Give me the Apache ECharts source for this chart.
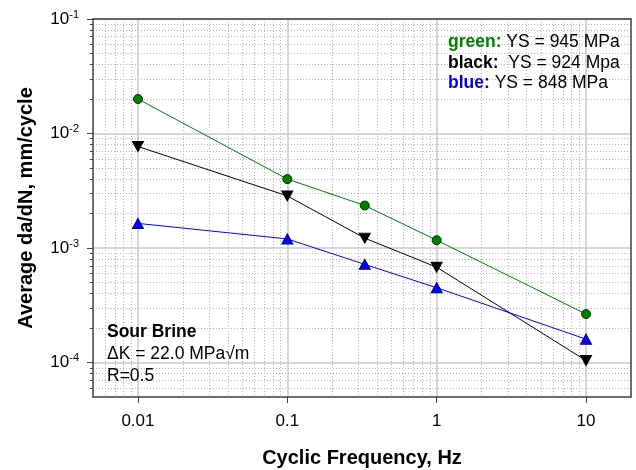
<!DOCTYPE html>
<html>
<head>
<meta charset="utf-8">
<script src="https://cdn.jsdelivr.net/npm/echarts@6/dist/echarts.min.js"></script>
<style>
  html, body { margin: 0; padding: 0; background: #fff; }
  #chart { width: 636px; height: 470px; }
</style>
</head>
<body>
<div id="chart"></div>
<script>
//数据
var freq = [0.01, 0.1, 0.33, 1, 10];
var greenRate = [2.0e-2, 4.0e-3, 2.35e-3, 1.17e-3, 2.65e-4];
var blackRate = [7.7e-3, 2.85e-3, 1.22e-3, 6.8e-4, 1.04e-4];
var blueRate = [1.64e-3, 1.2e-3, 7.2e-4, 4.5e-4, 1.6e-4];

//刻度
var xMajor = [0.01, 0.1, 1, 10];
var xMinor = [0.006, 0.007, 0.008, 0.009,
    0.02, 0.03, 0.04, 0.05, 0.06, 0.07, 0.08, 0.09,
    0.2, 0.3, 0.4, 0.5, 0.6, 0.7, 0.8, 0.9,
    2, 3, 4, 5, 6, 7, 8, 9];
var yMajor = [1e-4, 1e-3, 1e-2, 1e-1];
var yMinor = [6e-5, 7e-5, 8e-5, 9e-5,
    2e-4, 3e-4, 4e-4, 5e-4, 6e-4, 7e-4, 8e-4, 9e-4,
    2e-3, 3e-3, 4e-3, 5e-3, 6e-3, 7e-3, 8e-3, 9e-3,
    2e-2, 3e-2, 4e-2, 5e-2, 6e-2, 7e-2, 8e-2, 9e-2];

var font = '"Liberation Sans", Arial, sans-serif';
var axisColor = '#404040';
var majorGrid = { color: '#c8c8c8', width: 1.5 };
var minorGrid = { color: '#b4b4b4', width: 1, type: [1, 2] };

function pairs(xs, ys) {
    var out = [];
    for (var i = 0; i < xs.length; i++) {
        out.push([xs[i], ys[i]]);
    }
    return out;
}

var chart = echarts.init(document.getElementById('chart'), null, { renderer: 'canvas' });

var option = {
    animation: false,
    backgroundColor: '#fff',
    grid: {
        left: 93, top: 19, right: 5, bottom: 73,
        containLabel: false,
        outerBoundsMode: 'none'
    },
    xAxis: [
        //主刻度
        {
            type: 'log', logBase: 10, min: 0.005, max: 20, z: 1,
            name: 'Cyclic Frequency, Hz',
            nameLocation: 'middle', nameGap: 51,
            nameTextStyle: { fontFamily: font, fontSize: 20, fontWeight: 'bold', color: '#000' },
            axisLine: { show: true, onZero: false, lineStyle: { color: axisColor, width: 1.5 } },
            axisTick: { show: true, length: 6, customValues: xMajor, lineStyle: { color: axisColor, width: 1 } },
            axisLabel: {
                show: true, customValues: xMajor, margin: 16,
                fontFamily: font, fontSize: 17, color: '#000',
                formatter: function (v) { return String(v); }
            },
            splitLine: { show: true, lineStyle: majorGrid },
            minorTick: { show: false }
        },
        //次网格
        {
            type: 'log', logBase: 10, min: 0.005, max: 20, z: 0,
            axisLine: { show: false, onZero: false },
            axisTick: { show: false, customValues: xMinor },
            axisLabel: { show: false },
            splitLine: { show: true, lineStyle: minorGrid }
        },
        //上边框
        {
            type: 'value', position: 'top', min: 0, max: 1, z: 3,
            axisLine: { show: true, onZero: false, lineStyle: { color: axisColor, width: 1.5 } },
            axisTick: { show: false },
            axisLabel: { show: false },
            splitLine: { show: false }
        }
    ],
    yAxis: [
        {
            type: 'log', logBase: 10, min: 5e-5, max: 0.1, z: 1, position: 'left',
            name: 'Average da/dN, mm/cycle',
            nameLocation: 'middle', nameGap: 57,
            nameTextStyle: { fontFamily: font, fontSize: 20, fontWeight: 'bold', color: '#000' },
            axisLine: { show: true, onZero: false, lineStyle: { color: axisColor, width: 1.5 } },
            axisTick: { show: true, length: 6, customValues: yMajor, lineStyle: { color: axisColor, width: 1 } },
            axisLabel: {
                show: true, customValues: yMajor, margin: 14,
                fontFamily: font, fontSize: 17, color: '#000',
                formatter: function (v) {
                    var e = Math.round(Math.log(v) / Math.LN10);
                    return '10{sup|' + e + '}';
                },
                rich: {
                    sup: { fontFamily: font, fontSize: 11, color: '#000', padding: [0, 0, 9, 0] }
                }
            },
            splitLine: { show: true, lineStyle: majorGrid },
            minorTick: { show: false }
        },
        {
            type: 'log', logBase: 10, min: 5e-5, max: 0.1, z: 0, position: 'left',
            axisLine: { show: false, onZero: false },
            axisTick: { show: true, length: 3, customValues: yMinor, lineStyle: { color: axisColor, width: 1 } },
            axisLabel: { show: false },
            splitLine: { show: true, lineStyle: minorGrid }
        },
        //右边框
        {
            type: 'value', position: 'right', min: 0, max: 1, z: 3,
            axisLine: { show: true, onZero: false, lineStyle: { color: axisColor, width: 1.5 } },
            axisTick: { show: false },
            axisLabel: { show: false },
            splitLine: { show: false }
        }
    ],
    series: [
        {
            name: 'green', type: 'line', xAxisIndex: 0, yAxisIndex: 0, z: 2,
            data: pairs(freq, greenRate),
            symbol: 'circle', symbolSize: 9,
            lineStyle: { color: '#008000', width: 1 },
            itemStyle: { color: '#008000', borderColor: '#003000', borderWidth: 1 }
        },
        {
            name: 'black', type: 'line', xAxisIndex: 0, yAxisIndex: 0, z: 2,
            data: pairs(freq, blackRate),
            symbol: 'triangle', symbolRotate: 180, symbolSize: [11, 10],
            lineStyle: { color: '#000', width: 1 },
            itemStyle: { color: '#000', borderColor: '#000', borderWidth: 1 }
        },
        {
            name: 'blue', type: 'line', xAxisIndex: 0, yAxisIndex: 0, z: 2,
            data: pairs(freq, blueRate),
            symbol: 'triangle', symbolSize: [11, 10],
            lineStyle: { color: '#0000ff', width: 1 },
            itemStyle: { color: '#0000ff', borderColor: '#000080', borderWidth: 1 }
        }
    ],
    graphic: [
        //图例文字
        {
            type: 'text', x: 448, y: 42, z: 10,
            style: {
                text: '{g|green:} YS = 945 MPa', fill: '#000', fontFamily: font, fontSize: 17.5, verticalAlign: 'middle',
                rich: { g: { fill: '#008000', fontWeight: 'bold', fontFamily: font, fontSize: 17.5 } }
            }
        },
        {
            type: 'text', x: 448, y: 63, z: 10,
            style: {
                text: '{k|black:}  YS = 924 Mpa', fill: '#000', fontFamily: font, fontSize: 17.5, verticalAlign: 'middle',
                rich: { k: { fill: '#000', fontWeight: 'bold', fontFamily: font, fontSize: 17.5 } }
            }
        },
        {
            type: 'text', x: 448, y: 83, z: 10,
            style: {
                text: '{b|blue:} YS = 848 MPa', fill: '#000', fontFamily: font, fontSize: 17.5, verticalAlign: 'middle',
                rich: { b: { fill: '#0000ee', fontWeight: 'bold', fontFamily: font, fontSize: 17.5 } }
            }
        },
        //条件说明
        {
            type: 'text', x: 107, y: 332, z: 10,
            style: { text: 'Sour Brine', fill: '#000', fontFamily: font, fontSize: 17.5, fontWeight: 'bold', verticalAlign: 'middle' }
        },
        {
            type: 'text', x: 107, y: 354, z: 10,
            style: { text: '\u0394K = 22.0 MPa\u221Am', fill: '#000', fontFamily: font, fontSize: 17.5, verticalAlign: 'middle' }
        },
        {
            type: 'text', x: 107, y: 376, z: 10,
            style: { text: 'R=0.5', fill: '#000', fontFamily: font, fontSize: 17.5, verticalAlign: 'middle' }
        }
    ]
};

chart.setOption(option);
</script>
</body>
</html>
